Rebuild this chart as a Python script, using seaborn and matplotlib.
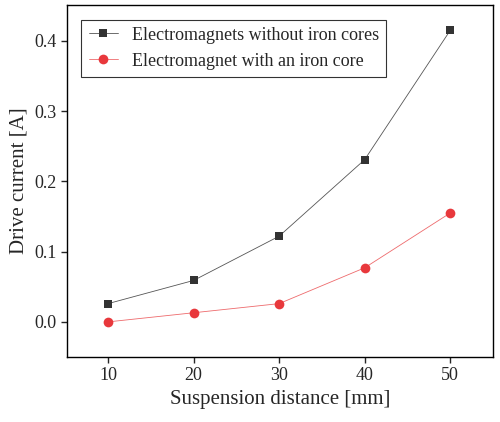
import matplotlib
matplotlib.use("Agg")
import matplotlib.pyplot as plt
import seaborn as sns
import pandas as pd

distance = [10, 20, 30, 40, 50]
no_core = [0.026, 0.059, 0.122, 0.231, 0.415]
iron_core = [0.0, 0.013, 0.026, 0.077, 0.155]

sns.set_style("ticks")
plt.rcParams['font.family'] = ['Liberation Serif', 'DejaVu Serif']

fig = plt.figure(figsize=(5.0, 4.22), dpi=100)
ax = fig.add_axes([0.134, 0.154, 0.852, 0.834])

df = pd.DataFrame({'d': distance, 'a': no_core, 'b': iron_core})
sns.lineplot(data=df, x='d', y='a', ax=ax, color='#555555', lw=0.6, marker='s',
             markersize=6, markeredgewidth=0, markerfacecolor='#333333',
             label='Electromagnets without iron cores')
sns.lineplot(data=df, x='d', y='b', ax=ax, color='#ee6a6c', lw=0.6, marker='o',
             markersize=7, markeredgewidth=0, markerfacecolor='#e8383c',
             label='Electromagnet with an iron core')

ax.set_xlim(5.2, 55)
ax.set_ylim(-0.05, 0.451)
ax.set_xticks(distance)
ax.set_yticks([0.0, 0.1, 0.2, 0.3, 0.4])
ax.set_yticklabels(['0.0', '0.1', '0.2', '0.3', '0.4'])
ax.tick_params(labelsize=13, direction='out', length=4, width=1)
for s in ax.spines.values():
    s.set_visible(True)
    s.set_linewidth(1)
    s.set_color('black')
ax.set_xlabel('Suspension distance [mm]', fontsize=15)
ax.set_ylabel('Drive current [A]', fontsize=15)
leg = ax.legend(loc='upper left', fontsize=13, frameon=True, fancybox=False,
                edgecolor='black', borderaxespad=0.8, handlelength=1.6)
leg.get_frame().set_linewidth(0.8)

fig.savefig('out.png', dpi=100)
